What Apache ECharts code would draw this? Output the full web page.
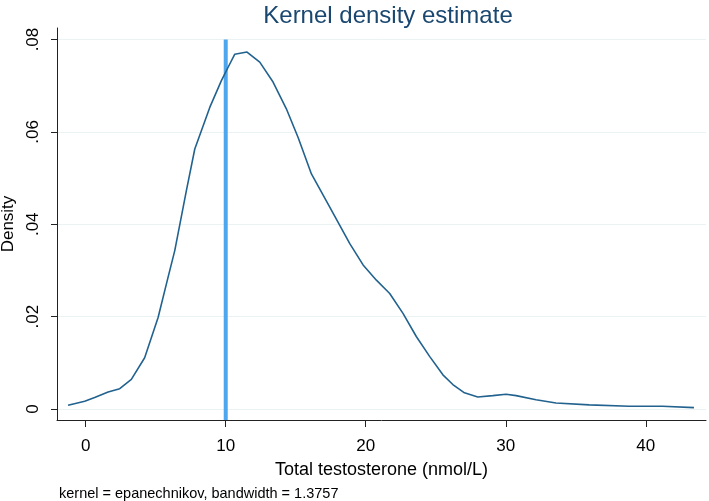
<!DOCTYPE html>
<html>
<head>
<meta charset="utf-8">
<script src="https://cdn.jsdelivr.net/npm/echarts@6/dist/echarts.min.js"></script>
<style>html,body{margin:0;padding:0;background:#fff}#c{width:709px;height:501px}</style>
</head>
<body>
<div id="c"></div>
<script>
var densityX = [-1.26,-0.07,0.64,1.6,2.43,3.26,4.21,5.17,5.88,6.36,7.19,7.79,8.86,9.69,10.17,10.64,11.52,12.43,13.38,14.33,15.17,16.12,17.43,18.86,19.81,20.76,21.71,22.66,23.61,24.56,25.51,26.22,27.05,28.0,29.07,30.02,30.74,32.16,33.59,35.96,38.81,41.19,43.44];
var densityY = [0.0008,0.0017,0.0025,0.0037,0.0044,0.0064,0.0111,0.0198,0.0285,0.0343,0.0473,0.0563,0.0653,0.0711,0.074,0.0768,0.0773,0.0751,0.0708,0.065,0.0588,0.0509,0.0437,0.0358,0.0312,0.0279,0.025,0.0207,0.0157,0.0114,0.0074,0.0053,0.0035,0.0026,0.0029,0.0032,0.0029,0.002,0.0013,0.0009,0.0006,0.0006,0.0003];
var xTicks = [0,10,20,30,40];
var yTicks = [0,0.02,0.04,0.06,0.08];
var refX = 10;
var refTop = 0.08;
var titleText = 'Kernel density estimate';
var xName = 'Total testosterone (nmol/L)';
var yName = 'Density';
var noteText = 'kernel = epanechnikov, bandwidth = 1.3757';

var xMin = -2.05, xMax = 44.3, yMin = -0.00238, yMax = 0.0825;
var curve = densityX.map(function(x,i){return [x, densityY[i]];});
var font = 'Arial, "Liberation Sans", Helvetica, sans-serif';
var chart = echarts.init(document.getElementById('c'));
chart.setOption({
  animation:false,
  backgroundColor:'#fff',
  title:{text:titleText,left:383,textAlign:'center',top:-1,textStyle:{color:'#1a476f',fontSize:24,fontWeight:'normal',fontFamily:font}},
  graphic:[{type:'text',left:59,top:486,style:{text:noteText,fontSize:14.5,fill:'#000',fontFamily:font}}],
  grid:{left:57,right:3,top:28,bottom:81,containLabel:false,outerBoundsMode:'none'},
  xAxis:{type:'value',min:xMin,max:xMax,name:xName,nameLocation:'middle',nameGap:41,
    nameTextStyle:{fontSize:18,color:'#000',fontFamily:font},
    axisLine:{onZero:false,lineStyle:{color:'#222',width:1}},
    axisTick:{show:true,length:7,customValues:xTicks,lineStyle:{color:'#222'}},
    axisLabel:{customValues:xTicks,fontSize:17,color:'#000',margin:18,fontFamily:font},
    splitLine:{show:false}},
  yAxis:{type:'value',min:yMin,max:yMax,name:yName,nameLocation:'middle',nameGap:39,
    nameTextStyle:{fontSize:17,color:'#000',fontFamily:font},
    axisLine:{show:true,onZero:false,lineStyle:{color:'#222',width:1}},
    axisTick:{show:true,length:6,customValues:yTicks,lineStyle:{color:'#222'}},
    axisLabel:{customValues:yTicks,fontSize:17,color:'#000',rotate:90,margin:15,fontFamily:font,
      formatter:function(v){return v===0?'0':String(+v.toFixed(2)).replace(/^0/,'');}},
    splitLine:{show:true,lineStyle:{color:'#eaf2f3',width:1}}},
  series:[
    {type:'line',data:curve,showSymbol:false,lineStyle:{color:'#22628f',width:1.6},z:3},
    {type:'line',data:[[refX,yMin],[refX,refTop]],showSymbol:false,lineStyle:{color:'#4ea6ee',width:4},z:2}
  ]
});
</script>
</body>
</html>
